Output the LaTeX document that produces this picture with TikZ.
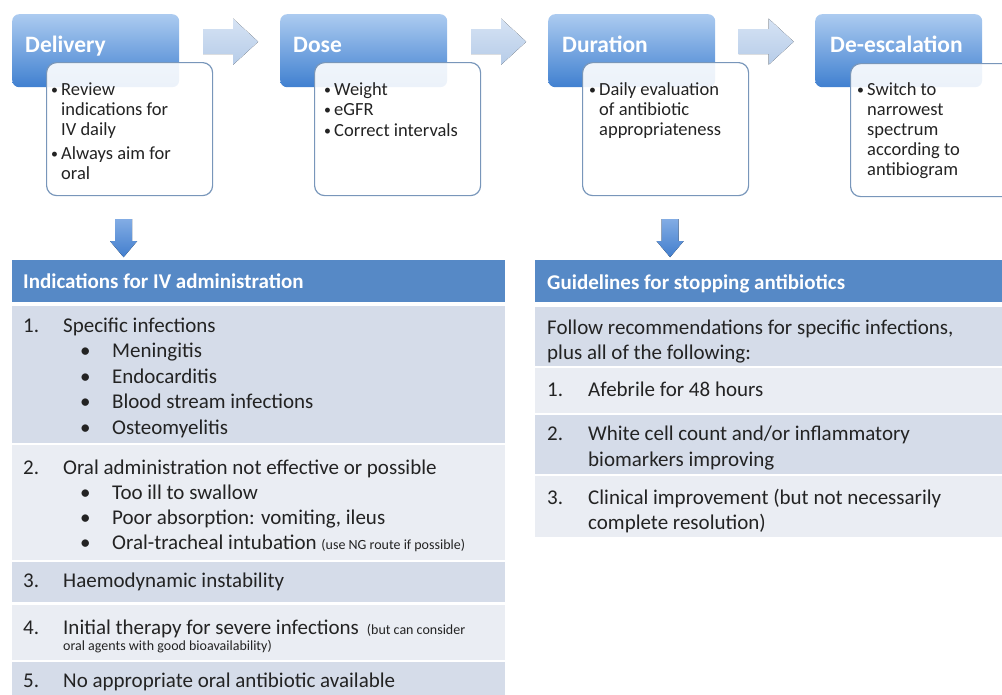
\documentclass[tikz,border=0pt]{standalone}
\usepackage{fontspec}
\setmainfont{Carlito}
\usetikzlibrary{calc,positioning}

\definecolor{stagetop}{RGB}{172,203,240}
\definecolor{stagebot}{RGB}{64,128,208}
\definecolor{boxline}{RGB}{120,150,186}
\definecolor{arrowtop}{RGB}{214,227,244}
\definecolor{arrowbot}{RGB}{182,204,232}
\definecolor{downtop}{RGB}{130,172,228}
\definecolor{downbot}{RGB}{66,126,205}
\definecolor{headblue}{RGB}{86,137,198}
\definecolor{rowdark}{RGB}{213,220,233}
\definecolor{rowlight}{RGB}{234,237,243}
\definecolor{ink}{RGB}{35,35,35}

\newcommand{\bul}{\makebox[10pt][l]{\raisebox{1pt}{\scalebox{0.75}{\textbullet}}}}
\newcommand{\cont}{\hspace*{10pt}}
\newcommand{\num}[1]{\makebox[40pt][l]{#1}}
\newcommand{\sub}{\hspace*{57pt}\makebox[32pt][l]{\textbullet}}
\newcommand{\note}{\fontsize{14}{16}\selectfont}

\begin{document}
\begin{tikzpicture}[x=1pt,y=-1pt,
    stage/.style={anchor=north west, rounded corners=7pt, top color=stagetop, bottom color=stagebot,
      minimum width=167pt, minimum height=73pt, inner sep=0pt},
    stagetext/.style={anchor=base west, text=white, inner sep=0pt, font=\fontsize{23.5}{26}\selectfont\bfseries},
    detail/.style={anchor=north west, draw=boxline, line width=1.2pt, fill=white, fill opacity=0.9,
      rounded corners=10pt, minimum width=166pt, minimum height=133pt, inner sep=0pt},
    detailtext/.style={anchor=base west, align=left, inner sep=0pt, text=ink, font=\fontsize{18.5}{20}\selectfont},
    nextarrow/.style={top color=arrowtop, bottom color=arrowbot},
    downarrow/.style={top color=downtop, bottom color=downbot},
    tablehead/.style={anchor=north west, fill=headblue, minimum height=42pt, inner sep=0pt},
    headtext/.style={anchor=base west, text=white, inner sep=0pt, font=\fontsize{21}{25}\selectfont\bfseries},
    darkrow/.style={anchor=north west, fill=rowdark, inner sep=0pt},
    lightrow/.style={anchor=north west, fill=rowlight, inner sep=0pt},
    rowtext/.style={anchor=base west, align=left, inner sep=0pt, text=ink, font=\fontsize{21}{25.5}\selectfont},
  ]
  \useasboundingbox (0,0) rectangle (1002,694);

  % four stages
  \node[stage] (s1) at (12,14) {};
  \node[stage] (s2) at (280,14) {};
  \node[stage] (s3) at (548,14) {};
  \node[stage] (s4) at (815,14) {};
  \node[stagetext] (n1) at ($(s1.north west)+(13,38)$) {Delivery};
  \node[stagetext] (n2) at ($(s2.north west)+(13,38)$) {Dose};
  \node[stagetext] (n3) at ($(s3.north west)+(14,38)$) {Duration};
  \node[stagetext] (n4) at ($(s4.north west)+(15,38)$) {De-escalation};

  % arrows between stages
  \foreach \a/\b in {s1/s2,s2/s3,s3/s4}{
    \coordinate (m) at ($(\a.east)!0.5!(\b.west)+(1,-9)$);
    \fill[nextarrow,shift={(m)}] (-27.5,-12.5) -- (2.5,-12.5) -- (2.5,-23) -- (27.5,0)
      -- (2.5,23) -- (2.5,12.5) -- (-27.5,12.5) -- cycle;
  }

  % detail boxes (text nodes sit on their last baseline)
  \node[detail] (b1) at (46,62) {};
  \node[detail] (b2) at (314,62) {};
  \node[detail] (b3) at (582,62) {};
  \node[detail] (b4) at (850,63) {};
  \node[detailtext] (p1) at ($(b1.north west)+(5,117)$)
    {\bul Review\\ \cont indications for\\ \cont IV daily\\[4pt] \bul Always aim for\\ \cont oral};
  \node[detailtext, font=\fontsize{18.5}{20.5}\selectfont] (p2) at ($(b2.north west)+(10,74)$)
    {\bul Weight\\ \bul eGFR\\ \bul Correct intervals};
  \node[detailtext] (p3) at ($(b3.north west)+(7,73)$)
    {\bul Daily evaluation\\ \cont of antibiotic\\ \cont appropriateness};
  \node[detailtext] (p4) at ($(b4.north west)+(7,112)$)
    {\bul Switch to\\ \cont narrowest\\ \cont spectrum\\ \cont according to\\ \cont antibiogram};

  % down arrows
  \foreach \b/\dx in {b1/-6,b3/4.5}{
    \coordinate (m) at ($(\b.south)+(\dx,23)$);
    \fill[downarrow,shift={(m)}] (-8.5,0) -- (8.5,0) -- (8.5,22) -- (13.5,22) -- (0,38)
      -- (-13.5,22) -- (-8.5,22) -- cycle;
  }

  % left table
  \node[tablehead, minimum width=493pt] (h1) at (12,260) {};
  \node[headtext] (h1t) at (23,288) {Indications for IV administration};
  \node[darkrow, minimum width=493pt, minimum height=137pt] (l1) at (12,306) {};
  \node[lightrow, minimum width=493pt, minimum height=115pt] (l2) at (12,445) {};
  \node[darkrow, minimum width=493pt, minimum height=40pt] (l3) at (12,562) {};
  \node[lightrow, minimum width=493pt, minimum height=55pt] (l4) at (12,605) {};
  \node[darkrow, minimum width=493pt, minimum height=40pt] (l5) at (12,662) {};
  \node[rowtext] (l1t) at (23,434)
    {\num{1.}Specific infections\\ \sub Meningitis\\ \sub Endocarditis\\ \sub Blood stream infections\\ \sub Osteomyelitis};
  \node[rowtext, font=\fontsize{21}{25}\selectfont] (l2t) at (23,549)
    {\num{2.}Oral administration not effective or possible\\ \sub Too ill to swallow\\
     \sub Poor absorption: vomiting, ileus\\ \sub Oral-tracheal intubation {\note (use NG route if possible)}};
  \node[rowtext] (l3t) at (23,587) {\num{3.}Haemodynamic instability};
  \node[rowtext] (l4t) at (23,634) {\num{4.}Initial therapy for severe infections\hspace{8pt}{\note (but can consider}};
  \node[rowtext, font=\note] (l4n) at (63,650) {oral agents with good bioavailability)};
  \node[rowtext] (l5t) at (23,687) {\num{5.}No appropriate oral antibiotic available};

  % right table
  \node[tablehead, minimum width=475pt] (h2) at (535,260) {};
  \node[headtext] (h2t) at (547,289) {Guidelines for stopping antibiotics};
  \node[darkrow, minimum width=475pt, minimum height=59pt] (g0) at (535,307) {};
  \node[lightrow, minimum width=475pt, minimum height=45pt] (g1) at (535,368) {};
  \node[darkrow, minimum width=475pt, minimum height=59pt] (g2) at (535,415) {};
  \node[lightrow, minimum width=475pt, minimum height=61pt] (g3) at (535,476) {};
  \node[rowtext, font=\fontsize{21}{25}\selectfont] (g0t) at (547,359)
    {Follow recommendations for specific infections,\\ plus all of the following:};
  \node[rowtext] (g1t) at (547,396) {\makebox[41pt][l]{1.}Afebrile for 48 hours};
  \node[rowtext, font=\fontsize{21}{26}\selectfont] (g2t) at (547,466)
    {\makebox[41pt][l]{2.}White cell count and/or inflammatory\\ \hspace*{41pt}biomarkers improving};
  \node[rowtext, font=\fontsize{21}{25}\selectfont] (g3t) at (547,529)
    {\makebox[41pt][l]{3.}Clinical improvement (but not necessarily\\ \hspace*{41pt}complete resolution)};
\end{tikzpicture}
\end{document}
